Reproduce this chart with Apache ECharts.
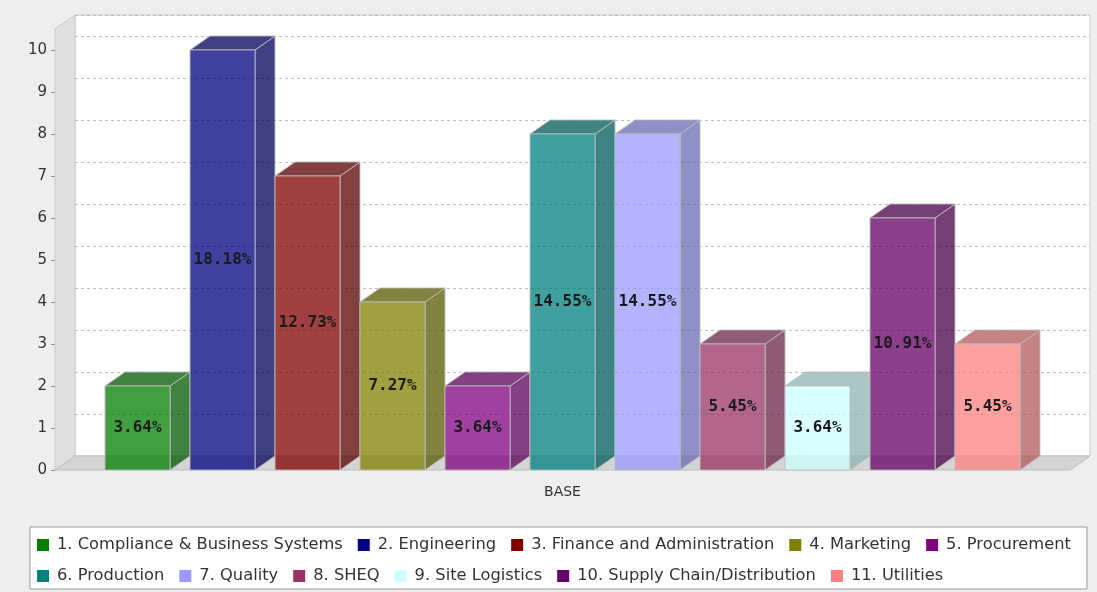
<!DOCTYPE html>
<html>
<head>
<meta charset="utf-8">
<script src="https://cdn.jsdelivr.net/npm/echarts@6/dist/echarts.min.js"></script>
<style>
html, body { margin: 0; padding: 0; background: #eeeeee; }
#chart { width: 1097px; height: 592px; }
</style>
</head>
<body>
<div id="chart"></div>
<script>
var categories = ['BASE'];
var departments = [
    '1. Compliance & Business Systems', '2. Engineering', '3. Finance and Administration',
    '4. Marketing', '5. Procurement', '6. Production', '7. Quality', '8. SHEQ',
    '9. Site Logistics', '10. Supply Chain/Distribution', '11. Utilities'
];
var counts = [2, 10, 7, 4, 2, 8, 8, 3, 2, 6, 3];
var colors = ['#008000', '#000080', '#800000', '#808000', '#800080', '#008080',
    '#9999ff', '#993366', '#ccffff', '#660066', '#ff8080'];
var yTicks = [0, 1, 2, 3, 4, 5, 6, 7, 8, 9, 10];

var total = counts.reduce(function (a, b) { return a + b; }, 0);

// 3d depth offset
var DX = 20, DY = -14;
// front plot area
var front = { left: 55, right: 27, top: 29, bottom: 122 };
var W = 1097, H = 592;
var fx0 = front.left, fx1 = W - front.right, fy0 = front.top, fy1 = H - front.bottom;

function rgb(hex) {
    return [parseInt(hex.substr(1, 2), 16), parseInt(hex.substr(3, 2), 16), parseInt(hex.substr(5, 2), 16)];
}
function rgba(c, f, a) {
    return 'rgba(' + Math.round(c[0] * f) + ',' + Math.round(c[1] * f) + ',' + Math.round(c[2] * f) + ',' + a + ')';
}

function renderBar(params, api) {
    var i = params.seriesIndex;
    var p0 = api.coord([api.value(0), 0]);
    var p1 = api.coord([api.value(0), api.value(1)]);
    var band = api.size([1, 0])[0];
    var step = band * 85 / 1015;
    var w = band * 65 / 1015;
    var left = p0[0] - band / 2 + (band - step * 10 - w) / 2 + i * step;
    var right = left + w;
    var yb = p0[1], yt = p1[1];
    var c = rgb(api.visual('color'));
    var edge = 'rgba(190,190,190,0.9)';
    var pct = (api.value(1) / total * 100).toFixed(2) + '%';
    return {
        type: 'group',
        children: [
            {
                type: 'polygon',
                shape: { points: [[right, yb], [right + DX, yb + DY], [right + DX, yt + DY], [right, yt]] },
                style: { fill: rgba(c, 0.7, 0.75), stroke: edge, lineWidth: 1 }
            },
            {
                type: 'polygon',
                shape: { points: [[left, yt], [left + DX, yt + DY], [right + DX, yt + DY], [right, yt]] },
                style: { fill: rgba(c, 0.7, 0.75), stroke: edge, lineWidth: 1 }
            },
            {
                type: 'rect',
                shape: { x: left, y: yt, width: w, height: yb - yt },
                style: { fill: rgba(c, 1, 0.75), stroke: edge, lineWidth: 1 }
            },
            {
                type: 'text',
                style: {
                    text: pct, x: (left + right) / 2, y: (yt + yb) / 2,
                    align: 'center', verticalAlign: 'middle',
                    font: 'bold 16px "DejaVu Sans Mono"', fill: '#1a1a1a'
                }
            }
        ]
    };
}

var series = departments.map(function (name, i) {
    return {
        name: name,
        type: 'custom',
        xAxisIndex: 0,
        yAxisIndex: 0,
        z: 3,
        itemStyle: { color: colors[i] },
        encode: { x: 0, y: 1 },
        data: [[0, counts[i]]],
        renderItem: renderBar
    };
});

var legendText = { fontFamily: 'DejaVu Sans', fontSize: 16.3, color: '#333', padding: [0, 0, 0, 3] };

var chart = echarts.init(document.getElementById('chart'));
chart.setOption({
    backgroundColor: '#eeeeee',
    animation: false,
    grid: [
        { left: front.left, right: front.right, top: front.top, bottom: front.bottom },
        {
            left: front.left + DX, right: front.right - DX, top: front.top + DY, bottom: front.bottom - DY,
            show: true, backgroundColor: '#ffffff', borderColor: '#c8c8c8', borderWidth: 1
        }
    ],
    xAxis: [
        {
            type: 'category', gridIndex: 0, data: categories,
            axisLine: { show: false }, axisTick: { show: false },
            axisLabel: { margin: 15, fontFamily: 'DejaVu Sans', fontSize: 14, color: '#333' }
        },
        { type: 'category', gridIndex: 1, data: categories, show: false }
    ],
    yAxis: [
        {
            type: 'value', gridIndex: 0, min: 0, max: 10.5, interval: 1,
            axisLine: { show: false },
            axisTick: { show: true, length: 4, lineStyle: { color: '#888' }, customValues: yTicks },
            axisLabel: { margin: 8, fontFamily: 'DejaVu Sans', fontSize: 15, color: '#333', customValues: yTicks },
            splitLine: { show: false }
        },
        {
            type: 'value', gridIndex: 1, min: 0, max: 10.5, interval: 1,
            axisLine: { show: false }, axisTick: { show: false }, axisLabel: { show: false },
            splitLine: { show: true, lineStyle: { color: '#bdbdbd', type: [3, 3] } }
        }
    ],
    legend: [
        {
            data: departments.slice(0, 5), left: 37, top: 537, itemGap: 15, padding: 0,
            itemWidth: 12, itemHeight: 12, icon: 'rect', textStyle: legendText
        },
        {
            data: departments.slice(5), left: 37, top: 568, itemGap: 15, padding: 0,
            itemWidth: 12, itemHeight: 12, icon: 'rect', textStyle: legendText
        }
    ],
    graphic: [
        {
            type: 'rect', z: 0, silent: true,
            shape: { x: 30, y: 527, width: 1057, height: 62 },
            style: { fill: '#ffffff', stroke: '#999', lineWidth: 1 }
        },
        {
            type: 'polygon', z: 1, silent: true,
            shape: { points: [[fx0, fy1], [fx0, fy0], [fx0 + DX, fy0 + DY], [fx0 + DX, fy1 + DY]] },
            style: { fill: '#e0e0e0', stroke: '#c8c8c8', lineWidth: 1 }
        },
        {
            type: 'polygon', z: 1, silent: true,
            shape: { points: [[fx0, fy1], [fx1, fy1], [fx1 + DX, fy1 + DY], [fx0 + DX, fy1 + DY]] },
            style: { fill: '#d4d4d4', stroke: '#bdbdbd', lineWidth: 1 }
        }
    ],
    series: series
});
</script>
</body>
</html>
